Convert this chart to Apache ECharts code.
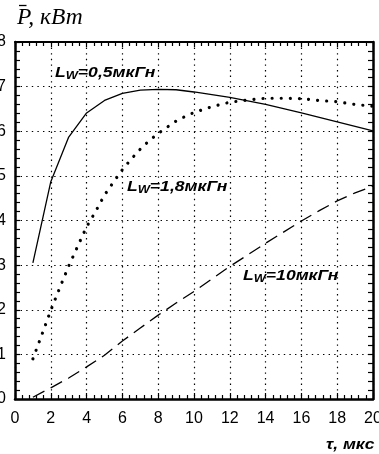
<!DOCTYPE html>
<html><head><meta charset="utf-8">
<script src="https://cdn.jsdelivr.net/npm/echarts@6/dist/echarts.min.js"></script>
<style>html,body{margin:0;padding:0;background:#fff}#c{width:379px;height:454px}</style>
</head><body><div id="c"></div>
<script>
// ---- data ----
const tau05 = [1, 2, 3, 4, 5, 6, 7, 8, 9, 10, 12, 14, 16, 18, 20];
const p05   = [3.05, 4.87, 5.87, 6.41, 6.69, 6.85, 6.92, 6.94, 6.93, 6.88, 6.76, 6.60, 6.41, 6.21, 6.01];

const tau18 = [1, 1.5, 2, 2.5, 3, 3.5, 4, 4.5, 5, 5.5, 6, 6.5, 7, 7.5, 8, 8.5, 9, 9.5, 10, 11, 12, 13, 14, 15, 16, 17, 18, 19, 20];
const p18   = [0.90, 1.44, 1.99, 2.49, 2.98, 3.42, 3.86, 4.20, 4.57, 4.86, 5.14, 5.38, 5.60, 5.79, 5.95, 6.09, 6.23, 6.33, 6.42, 6.55, 6.65, 6.70, 6.74, 6.74, 6.73, 6.69, 6.66, 6.60, 6.56];

const tau10 = [1, 2, 3, 4, 5, 6, 7, 8, 9, 10, 11, 12, 13, 14, 15, 16, 17, 18, 19, 20];
const p10   = [0.04, 0.25, 0.47, 0.72, 0.98, 1.30, 1.59, 1.88, 2.15, 2.41, 2.69, 2.97, 3.23, 3.49, 3.74, 3.99, 4.22, 4.44, 4.62, 4.77];

const xTicks = [0, 2, 4, 6, 8, 10, 12, 14, 16, 18, 20];
const yTicks = [0, 1, 2, 3, 4, 5, 6, 7, 8];
const seriesNames = ['0,5мкГн', '1,8мкГн', '10мкГн'];
const yTitle = 'P, кВт';
const xTitle = 'τ, мкс';

const zip = (a, b) => a.map((v, i) => [v, b[i]]);

const chart = echarts.init(document.getElementById('c'), null, {renderer: 'canvas'});
const grid = {left: 15, right: 6, top: 42, bottom: 55, containLabel: false, outerBoundsMode: 'none'};
const gridDots = {show: true, lineStyle: {color: '#000', width: 1.2, type: [1.4, 4.2]}};
const FONT = '"Liberation Sans", Arial';

function lbl(rest, x, y) {
  return {
    type: 'text', x: x, y: y, scaleX: 1.17, z: 10,
    style: {
      text: '{a|L}{b|W}{a|' + rest + '}',
      fill: '#000',
      rich: {
        a: {fontSize: 15, fontWeight: 'bold', fontStyle: 'italic', fontFamily: FONT, lineHeight: 17},
        b: {fontSize: 11, fontWeight: 'bold', fontStyle: 'italic', fontFamily: FONT, lineHeight: 12, verticalAlign: 'bottom', padding: [8, 0, 0, 0]}
      }
    }
  };
}

chart.setOption({
  animation: false,
  backgroundColor: '#fff',
  grid: grid,
  xAxis: [{
    type: 'value', min: xTicks[0], max: xTicks[xTicks.length - 1], interval: 2, position: 'bottom',
    axisLine: {show: true, lineStyle: {color: '#000', width: 2.5}},
    axisTick: {show: true, inside: true, length: 6, lineStyle: {color: '#000', width: 1.2}},
    minorTick: {show: true, splitNumber: 5, length: 4, lineStyle: {color: '#000', width: 1.2}},
    axisLabel: {color: '#000', fontSize: 16, fontFamily: FONT, margin: 12},
    splitLine: gridDots
  }, {
    type: 'value', min: xTicks[0], max: xTicks[xTicks.length - 1], interval: 2, position: 'top',
    axisLine: {show: true, onZero: false, lineStyle: {color: '#000', width: 2}},
    axisTick: {show: true, inside: true, length: 5, lineStyle: {color: '#000', width: 1.2}},
    minorTick: {show: true, splitNumber: 5, length: 4, lineStyle: {color: '#000', width: 1.2}},
    axisLabel: {show: false}, splitLine: {show: false}
  }],
  yAxis: [{
    type: 'value', min: yTicks[0], max: yTicks[yTicks.length - 1], interval: 1, position: 'left',
    axisLine: {show: true, lineStyle: {color: '#000', width: 2.5}},
    axisTick: {show: true, inside: true, length: 5, lineStyle: {color: '#000', width: 1.2}},
    minorTick: {show: true, splitNumber: 5, length: 5, lineStyle: {color: '#000', width: 1.2}},
    axisLabel: {color: '#000', fontSize: 16, fontFamily: FONT, margin: 9},
    splitLine: gridDots
  }, {
    type: 'value', min: yTicks[0], max: yTicks[yTicks.length - 1], interval: 1, position: 'right',
    axisLine: {show: true, onZero: false, lineStyle: {color: '#000', width: 2.5}},
    axisTick: {show: true, inside: true, length: 5, lineStyle: {color: '#000', width: 1.2}},
    minorTick: {show: true, splitNumber: 5, length: 5, lineStyle: {color: '#000', width: 1.2}},
    axisLabel: {show: false}, splitLine: {show: false}
  }],
  series: [{
    name: seriesNames[0], type: 'line', data: zip(tau05, p05), showSymbol: false, symbol: 'none',
    lineStyle: {color: '#000', width: 1.3}
  }, {
    name: seriesNames[1], type: 'line', data: zip(tau18, p18), showSymbol: false, symbol: 'none',
    lineStyle: {color: '#000', width: 3.2, type: [0.01, 9.1], cap: 'round'}
  }, {
    name: seriesNames[2], type: 'line', data: zip(tau10, p10), showSymbol: false, symbol: 'none',
    lineStyle: {color: '#000', width: 1.3, type: [13, 7]}
  }],
  graphic: [
    {type: 'text', x: 17, y: 6, style: {text: yTitle, fill: '#000', font: 'italic 23.5px "Liberation Serif", serif'}},
    {type: 'line', shape: {x1: 19, y1: 5.5, x2: 26.5, y2: 5.5}, style: {stroke: '#000', lineWidth: 1.3}},
    {type: 'text', x: 326, y: 438, scaleX: 1.25, style: {text: xTitle, fill: '#000', font: 'italic bold 14px "Liberation Sans", Arial'}},
    lbl('=' + seriesNames[0], 55, 64),
    lbl('=' + seriesNames[1], 127, 178),
    lbl('=' + seriesNames[2], 243, 267)
  ]
});
</script></body></html>
